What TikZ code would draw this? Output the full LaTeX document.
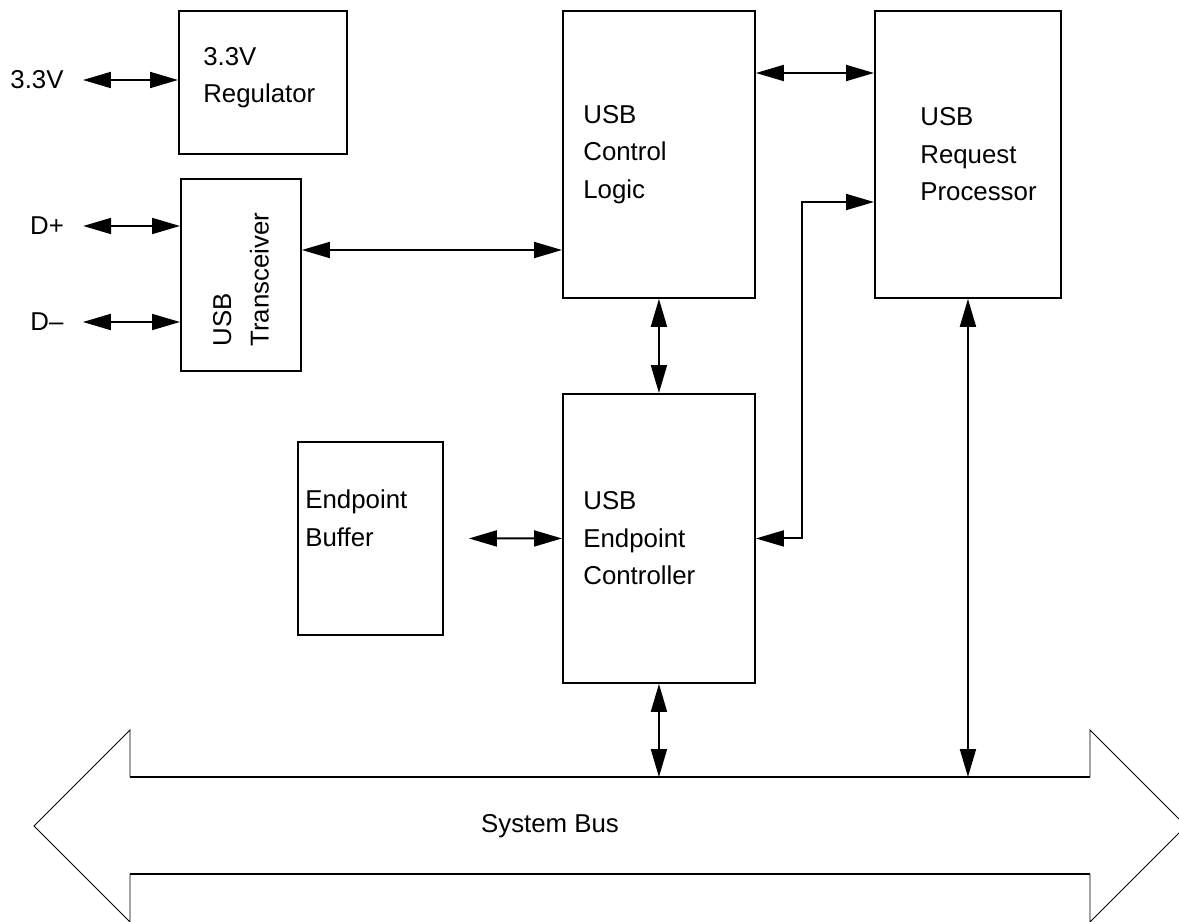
\documentclass[tikz,border=0pt]{standalone}
\usepackage{fontspec}
\setmainfont{Liberation Sans}
\usetikzlibrary{arrows.meta,positioning}

\begin{document}
\begin{tikzpicture}[x=0.02cm, y=-0.02cm,
        box/.style={draw, line width=1.1pt, inner sep=0pt, anchor=north west},
        txt/.style={inner sep=0pt, align=left, font=\fontsize{14.7}{21.3}\selectfont},
        sig/.style={txt, inner xsep=0.38cm},
        biarrow/.style={{Triangle[length=0.56cm,width=0.32cm]}-{Triangle[length=0.56cm,width=0.32cm]}, line width=1.1pt}]
        \useasboundingbox (0,0) rectangle (1179,922);
        \clip (0,0) rectangle (1179,922);

        % === BLOCKS ===
        \node[box, minimum width=3.36cm, minimum height=2.86cm] (reg) at (178,10) {};
        \node[box, minimum width=2.4cm, minimum height=3.84cm] (xcvr) at (180,178) {};
        \node[box, minimum width=3.84cm, minimum height=5.74cm] (ctrl) at (562,10) {};
        \node[box, minimum width=3.72cm, minimum height=5.74cm] (rp) at (874,10) {};
        \node[box, minimum width=3.84cm, minimum height=5.78cm] (epc) at (562,393) {};
        \node[box, minimum width=2.9cm, minimum height=3.86cm] (buf) at (297,441) {};

        % === BLOCK TEXT ===
        \node[txt, anchor=west] (regtext) at ([xshift=0.5cm, yshift=0.09cm]reg.west) {3.3V\\Regulator};
        \node[txt, rotate=90, anchor=west] (xcvrtext) at ([yshift=0.5cm]xcvr.south) {USB\\Transceiver};
        \node[txt, anchor=west] (ctrltext) at ([xshift=0.42cm]ctrl.west) {USB\\Control\\Logic};
        \node[txt, anchor=west] (rptext) at ([xshift=0.92cm]rp.west) {USB\\Request\\Processor};
        \node[txt, anchor=west] (epctext) at ([xshift=0.42cm]epc.west) {USB\\Endpoint\\Controller};
        \node[txt, anchor=west] (buftext) at ([xshift=0.16cm, yshift=0.4cm]buf.west) {Endpoint\\Buffer};

        % === SIGNALS ===
        \node[sig] (vin) at (37,80) {3.3V};
        \node[sig] (dp) at (47,226) {D+};
        \node[sig] (dm) at (47,322) {D--};
        \draw[biarrow] (vin.east) -- (vin.east -| reg.west);
        \draw[biarrow] (dp.east) -- (dp.east -| xcvr.west);
        \draw[biarrow] (dm.east) -- (dm.east -| xcvr.west);

        % === CONNECTIONS ===
        \coordinate (row1) at (0,73);
        \coordinate (row2) at (0,250);
        \coordinate (bend) at (802,202);
        \coordinate (bustop) at (0,777);
        \draw[biarrow] (xcvr.east |- row2) -- (ctrl.west |- row2);
        \draw[biarrow] (ctrl.east |- row1) -- (rp.west |- row1);
        \draw[biarrow] (ctrl.south) -- (epc.north);
        \draw[biarrow, shorten <=0.5cm] (buf.east) -- (epc.west);
        \draw[biarrow] (epc.east) -| (bend) -- (rp.west |- bend);
        \draw[biarrow] (epc.south) -- (epc.south |- bustop);
        \draw[biarrow] (rp.south) -- (rp.south |- bustop);

        % === SYSTEM BUS ===
        \draw[line width=0.5pt] (130,777) -- (130,730) -- (34,826) -- (130,922) -- (130,874);
        \draw[line width=0.5pt] (1090,777) -- (1090,730) -- (1186,826) -- (1090,922) -- (1090,874);
        \draw[line width=1.1pt] (130,777) -- (1090,777) (130,874) -- (1090,874);
        \node[txt] (bus) at (550,826) {System Bus};

    \end{tikzpicture}
\end{document}
